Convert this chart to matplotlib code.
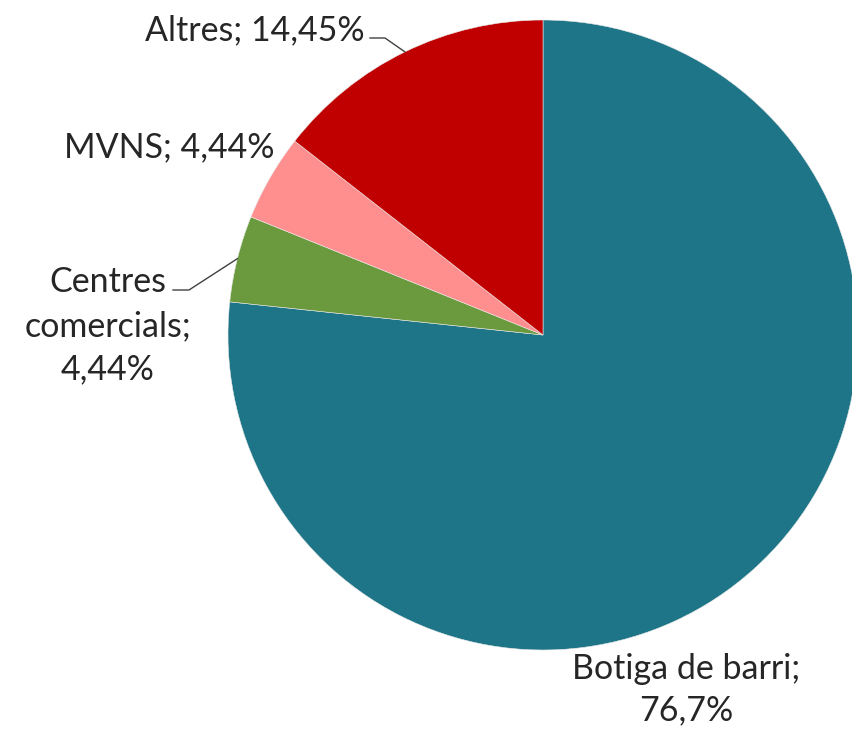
import numpy as np
import matplotlib
matplotlib.use("Agg")
import matplotlib.pyplot as plt

categories = ["Botiga de barri", "Centres comercials", "MVNS", "Altres"]
values = [76.7, 4.44, 4.44, 14.45]
label_texts = ["Botiga de barri;\n76,7%", "Centres\ncomercials;\n4,44%", "MVNS; 4,44%", "Altres; 14,45%"]
colors = ["#1D7587", "#6B9A3E", "#FF8F8F", "#C00000"]

W, H = 853, 732
fig = plt.figure(figsize=(W / 100, H / 100), dpi=100)
cx, cy, R = 543, 335, 315
ax = fig.add_axes([(cx - R) / W, (H - cy - R) / H, 2 * R / W, 2 * R / H])
ax.set_xlim(-1, 1)
ax.set_ylim(-1, 1)
ax.set_aspect("equal")
ax.axis("off")

wedges, _ = ax.pie(values, colors=colors, startangle=90, counterclock=False,
                   radius=1, wedgeprops=dict(linewidth=0.4, edgecolor="#e8e8e8"),
                   frame=False)
ax.set_xlim(-1, 1)
ax.set_ylim(-1, 1)

font = dict(family=["Lato", "DejaVu Sans"], fontsize=24.5, color="#262626")

def mid_point(w, r=1.0):
    a = np.deg2rad((w.theta1 + w.theta2) / 2)
    return r * np.cos(a), r * np.sin(a)

def px(x, y):
    return (x - cx) / R, (cy - y) / R

# Botiga de barri
tx, ty = px(686, 690)
ax.text(tx, ty, label_texts[0], ha="center", va="center", multialignment="center",
        clip_on=False, linespacing=1.35, **font)

# Centres comercials
tx, ty = px(108, 326)
ax.text(tx, ty, label_texts[1], ha="center", va="center", multialignment="center",
        clip_on=False, linespacing=1.45, **font)
mx, my = mid_point(wedges[1])
x1, y1 = px(173, 290)
x2, _ = px(189, 290)
ax.plot([x1, x2, mx], [y1, y1, my], color="#404040", lw=1, clip_on=False)

# MVNS
tx, ty = px(275, 147)
ax.text(tx, ty, label_texts[2], ha="right", va="center", clip_on=False, **font)

# Altres
tx, ty = px(365, 30)
ax.text(tx, ty, label_texts[3], ha="right", va="center", clip_on=False, **font)
mx, my = mid_point(wedges[3])
x1, y1 = px(370, 38)
x2, _ = px(385, 38)
ax.plot([x1, x2, mx], [y1, y1, my], color="#404040", lw=1, clip_on=False)

fig.savefig("out.png", dpi=100, facecolor="white")
